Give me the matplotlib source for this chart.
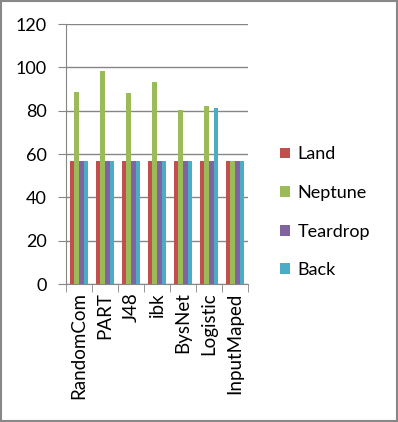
import numpy as np
import matplotlib
matplotlib.use("Agg")
import matplotlib.pyplot as plt
from matplotlib.patches import Rectangle

categories = ["RandomCom", "PART", "J48", "ibk", "BysNet", "Logistic", "InputMaped"]
series_names = ["Land", "Neptune", "Teardrop", "Back"]
land = [57, 57, 57, 57, 57, 57, 57]
neptune = [88.6, 98.3, 88.1, 93.2, 80.3, 82.1, 57]
teardrop = [57, 57, 57, 57, 57, 57, 57]
back = [57, 57, 57, 57, 57, 81.2, 57]
colors = ["#C0504D", "#9BBB59", "#8064A2", "#4BACC6"]

plt.rcParams["font.family"] = ["Lato", "DejaVu Sans"]

fig = plt.figure(figsize=(3.98, 4.22), dpi=100)
ax = fig.add_axes([0.166, 0.327, 0.457, 0.616])

x = np.arange(len(categories))
w = 0.18
for i, (name, vals) in enumerate(zip(series_names, [land, neptune, teardrop, back])):
    ax.bar(x + (i - 1.5) * w, vals, width=w, color=colors[i], label=name, zorder=3)

ax.set_xlim(-0.5, len(categories) - 0.5)
ax.set_ylim(0, 120)
ax.set_yticks(range(0, 121, 20))
ax.yaxis.grid(True, color="#868686", linewidth=1, zorder=0)
ax.set_xticks(x)
ax.set_xticklabels(categories, rotation=90, fontsize=13.5)
ax.tick_params(axis="x", length=0, pad=6)
ax.set_xticks(np.arange(-0.5, len(categories)), minor=True)
ax.tick_params(axis="x", which="minor", length=6, color="#868686")
ax.tick_params(axis="y", length=6, color="#868686", labelsize=13, pad=8)
for s in ["top", "right"]:
    ax.spines[s].set_visible(False)
ax.spines["left"].set_color("#868686")
ax.spines["bottom"].set_color("#868686")

fig.legend(loc="center left", bbox_to_anchor=(0.662, 0.497), frameon=False,
           fontsize=13, handlelength=0.55, handleheight=0.55, handletextpad=0.45,
           labelspacing=1.25)

fig.patches.append(Rectangle((0.002, 0.002), 0.996, 0.996, transform=fig.transFigure,
                             fill=False, edgecolor="#888888", linewidth=1.5))

fig.savefig("out.png", dpi=100)
